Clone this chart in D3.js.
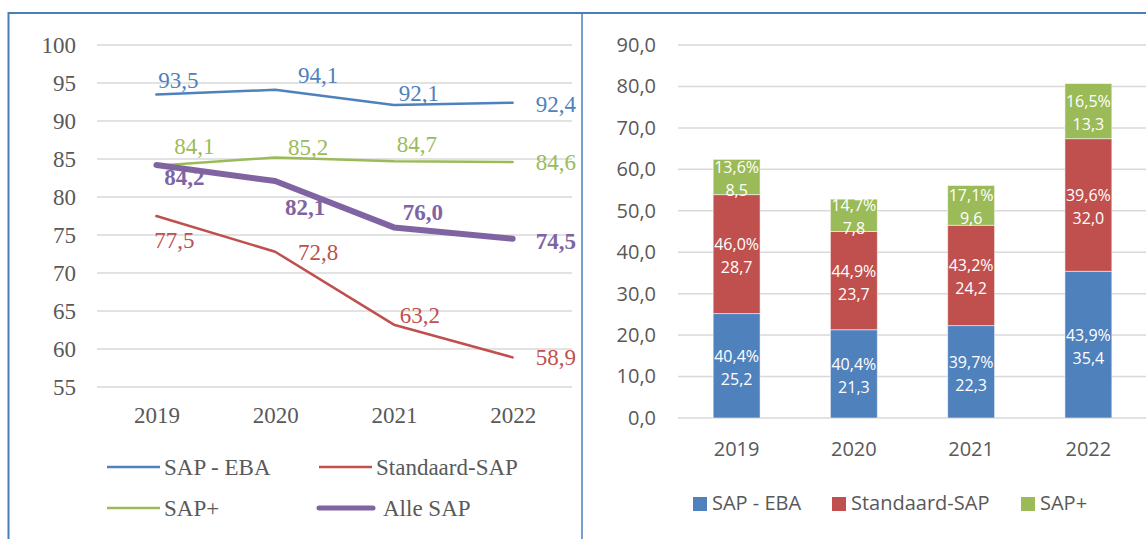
<!DOCTYPE html>
<html>
<head>
<meta charset="utf-8">
<script src="https://cdn.jsdelivr.net/npm/d3@7"></script>
<style>
  body { margin: 0; background: #fff; }
  svg { display: block; }
</style>
</head>
<body>
<div id="chart"></div>
<script>
// ---- data ----
const years = ["2019", "2020", "2021", "2022"];

// left: line chart
const sapEba = [93.5, 94.1, 92.1, 92.4];
const standaardSap = [77.5, 72.8, 63.2, 58.9];
const sapPlus = [84.1, 85.2, 84.7, 84.6];
const alleSap = [84.2, 82.1, 76.0, 74.5];
const lineTicks = [55, 60, 65, 70, 75, 80, 85, 90, 95, 100];

// right: stacked bars
const ebaCount = [25.2, 21.3, 22.3, 35.4];
const standaardCount = [28.7, 23.7, 24.2, 32.0];
const plusCount = [8.5, 7.8, 9.6, 13.3];
const ebaShare = [40.4, 40.4, 39.7, 43.9];
const standaardShare = [46.0, 44.9, 43.2, 39.6];
const plusShare = [13.6, 14.7, 17.1, 16.5];
const barTicks = [0, 10, 20, 30, 40, 50, 60, 70, 80, 90];

const seriesNames = ["SAP - EBA", "Standaard-SAP", "SAP+", "Alle SAP"];
const colors = ["#4f81bd", "#c0504d", "#9bbb59", "#8064a2"];

const nl = d3.formatLocale({ decimal: ",", thousands: ".", grouping: [3], currency: ["€", ""] });
const f1 = nl.format(".1f");

const width = 1146, height = 539;

const svg = d3.select("#chart").append("svg")
    .attr("width", width)
    .attr("height", height);

// ------- frame -------
svg.append("line").attr("x1", 8).attr("x2", width).attr("y1", 13).attr("y2", 13)
    .attr("stroke", "#4a7ebb").attr("stroke-width", 2);
svg.append("line").attr("x1", 8.5).attr("x2", 8.5).attr("y1", 12).attr("y2", height)
    .attr("stroke", "#4a7ebb").attr("stroke-width", 2);
svg.append("line").attr("x1", 582).attr("x2", 582).attr("y1", 13).attr("y2", height)
    .attr("stroke", "#4a7ebb").attr("stroke-width", 1.5);

// ================= LEFT: line chart =================
const serif = "'Liberation Serif', 'Times New Roman', serif";

const xLine = d3.scalePoint()
    .domain(years)
    .range([97, 572])
    .padding(0.5);

const yLine = d3.scaleLinear()
    .domain([55, 100])
    .range([387, 45]);

const left = svg.append("g");

// gridlines
left.append("g").selectAll("line")
    .data(lineTicks)
    .enter()
    .append("line")
    .attr("x1", 97).attr("x2", 572)
    .attr("y1", d => yLine(d)).attr("y2", d => yLine(d))
    .attr("stroke", "#d9d9d9").attr("stroke-width", 1.5);

// y axis labels
const yAxisL = left.append("g")
    .attr("transform", "translate(80,0)")
    .call(d3.axisLeft(yLine).tickValues(lineTicks).tickSize(0).tickPadding(4));
yAxisL.select(".domain").remove();
yAxisL.selectAll("text")
    .attr("font-family", serif).attr("font-size", 23).attr("fill", "#595959");

// x axis labels
const xAxisL = left.append("g")
    .attr("transform", "translate(0,403)")
    .call(d3.axisBottom(xLine).tickSize(0).tickPadding(4));
xAxisL.select(".domain").remove();
xAxisL.selectAll("text")
    .attr("font-family", serif).attr("font-size", 23).attr("fill", "#595959");

const lineSeries = [sapEba, standaardSap, sapPlus, alleSap];
const lineWidths = [2.5, 2.5, 2.5, 6];

// label nudges (dx, dy of baseline) per series per year
const labelNudge = [
    [[22, -6], [43, -7], [25, -4], [23, 9]],
    [[18, 32], [43, 8], [26, -2], [23, 8]],
    [[38, -12], [33, -2], [23, -9], [23, 8]],
    [[28, 20], [30, 34], [29, -7], [23, 10]]
];

const lineGen = d3.line()
    .x((d, i) => xLine(years[i]))
    .y(d => yLine(d));

// draw order: blue, green, red, purple on top
[0, 2, 1, 3].forEach(s => {
    left.append("path")
        .datum(lineSeries[s])
        .attr("d", lineGen)
        .attr("fill", "none")
        .attr("stroke", colors[s])
        .attr("stroke-width", lineWidths[s])
        .attr("stroke-linejoin", "round")
        .attr("stroke-linecap", "round");
});

lineSeries.forEach((vals, s) => {
    left.append("g").selectAll("text")
        .data(vals)
        .enter()
        .append("text")
        .attr("x", (d, i) => xLine(years[i]) + labelNudge[s][i][0])
        .attr("y", (d, i) => yLine(d) + labelNudge[s][i][1])
        .attr("text-anchor", (d, i) => i === 3 ? "start" : "middle")
        .attr("font-family", serif)
        .attr("font-size", 23)
        .attr("font-weight", s === 3 ? "bold" : "normal")
        .attr("fill", colors[s])
        .text(d => f1(d));
});

// legend
const legendL = [
    { x: 107, y: 467, text: 164 },
    { x: 319, y: 467, text: 376 },
    { x: 107, y: 508, text: 164 },
    { x: 319, y: 508, text: 383 }
];
seriesNames.forEach((name, s) => {
    const p = legendL[s];
    left.append("line")
        .attr("x1", p.x).attr("x2", p.x + (s === 3 ? 54 : 53))
        .attr("y1", p.y).attr("y2", p.y)
        .attr("stroke", colors[s])
        .attr("stroke-width", s === 3 ? 5 : 2.5)
        .attr("stroke-linecap", s === 3 ? "round" : "butt");
    left.append("text")
        .attr("x", p.text).attr("y", p.y + 8)
        .attr("font-family", serif).attr("font-size", 23).attr("fill", "#595959")
        .text(name);
});

// ================= RIGHT: stacked bars =================
const sans = "'Open Sans', 'Noto Sans', sans-serif";

const xBar = d3.scaleBand()
    .domain(years)
    .range([678, 1147])
    .paddingInner(0.6)
    .paddingOuter(0.3);

const yBar = d3.scaleLinear()
    .domain([0, 90])
    .range([418, 45]);

const right = svg.append("g");

right.append("g").selectAll("line")
    .data(barTicks)
    .enter()
    .append("line")
    .attr("x1", 678).attr("x2", width)
    .attr("y1", d => yBar(d)).attr("y2", d => yBar(d))
    .attr("stroke", "#d9d9d9").attr("stroke-width", 1.5);

const yAxisR = right.append("g")
    .attr("transform", "translate(660,0)")
    .call(d3.axisLeft(yBar).tickValues(barTicks).tickSize(0).tickPadding(4).tickFormat(f1));
yAxisR.select(".domain").remove();
yAxisR.selectAll("text")
    .attr("font-family", sans).attr("font-size", 20).attr("fill", "#595959");

const xAxisR = right.append("g")
    .attr("transform", "translate(0,438)")
    .call(d3.axisBottom(xBar).tickSize(0).tickPadding(4));
xAxisR.select(".domain").remove();
xAxisR.selectAll("text")
    .attr("font-family", sans).attr("font-size", 20).attr("fill", "#595959");

const barTable = years.map((y, i) => ({
    year: y,
    eba: ebaCount[i], standaard: standaardCount[i], plus: plusCount[i],
    shares: [ebaShare[i], standaardShare[i], plusShare[i]]
}));
const keys = ["eba", "standaard", "plus"];
const stacked = d3.stack().keys(keys)(barTable);

stacked.forEach((layer, k) => {
    const g = right.append("g");
    g.selectAll("rect")
        .data(layer)
        .enter()
        .append("rect")
        .attr("x", d => xBar(d.data.year))
        .attr("width", xBar.bandwidth())
        .attr("y", d => yBar(d[1]))
        .attr("height", d => yBar(d[0]) - yBar(d[1]))
        .attr("fill", colors[k])
        .attr("stroke", "#ffffff")
        .attr("stroke-opacity", 0.5)
        .attr("stroke-width", 1);

    const lbl = g.selectAll("text")
        .data(layer)
        .enter()
        .append("text")
        .attr("x", d => xBar(d.data.year) + xBar.bandwidth() / 2)
        .attr("text-anchor", "middle")
        .attr("font-family", sans)
        .attr("font-size", 16)
        .attr("fill", "#ffffff");
    lbl.append("tspan")
        .attr("x", d => xBar(d.data.year) + xBar.bandwidth() / 2)
        .attr("y", d => (yBar(d[0]) + yBar(d[1])) / 2 - 4)
        .text(d => f1(d.data.shares[k]) + "%");
    lbl.append("tspan")
        .attr("x", d => xBar(d.data.year) + xBar.bandwidth() / 2)
        .attr("y", d => (yBar(d[0]) + yBar(d[1])) / 2 + 19)
        .text(d => f1(d[1] - d[0]));
});

// legend
const legendR = [693, 832, 1021];
seriesNames.slice(0, 3).forEach((name, k) => {
    right.append("rect")
        .attr("x", legendR[k]).attr("y", 497)
        .attr("width", 14).attr("height", 14)
        .attr("fill", colors[k]);
    right.append("text")
        .attr("x", legendR[k] + 19).attr("y", 510)
        .attr("font-family", sans).attr("font-size", 20).attr("fill", "#595959")
        .text(name);
});
</script>
</body>
</html>
